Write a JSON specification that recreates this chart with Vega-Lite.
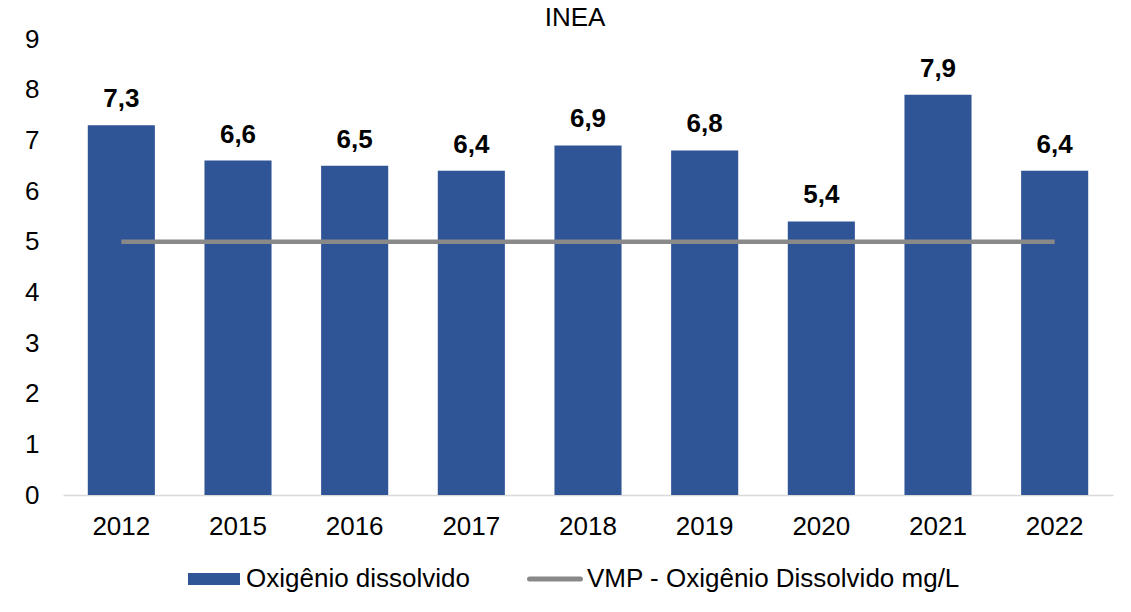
{
  "$schema": "https://vega.github.io/schema/vega-lite/v6.json",
  "width": 1050,
  "height": 456,
  "autosize": {"type": "none"},
  "padding": {"left": 63, "top": 39, "right": 18, "bottom": 117},
  "background": "white",
  "title": {"text": "INEA", "fontSize": 26, "font": "Liberation Sans", "fontWeight": "normal", "color": "#000000", "anchor": "middle", "offset": 0, "dx": -13, "dy": 26, "baseline": "alphabetic"},
  "config": {"view": {"stroke": null}, "font": "Liberation Sans"},
  "data": {"values": [
    {"ano": "2012", "valor": 7.3, "rotulo": "7,3"},
    {"ano": "2015", "valor": 6.6, "rotulo": "6,6"},
    {"ano": "2016", "valor": 6.5, "rotulo": "6,5"},
    {"ano": "2017", "valor": 6.4, "rotulo": "6,4"},
    {"ano": "2018", "valor": 6.9, "rotulo": "6,9"},
    {"ano": "2019", "valor": 6.8, "rotulo": "6,8"},
    {"ano": "2020", "valor": 5.4, "rotulo": "5,4"},
    {"ano": "2021", "valor": 7.9, "rotulo": "7,9"},
    {"ano": "2022", "valor": 6.4, "rotulo": "6,4"}
  ]},
  "layer": [
    {
      "mark": {"type": "bar", "color": "#2F5597"},
      "encoding": {
        "x": {"field": "ano", "type": "ordinal", "scale": {"paddingInner": 0.425, "paddingOuter": 0.2125},
          "axis": {"title": null, "labelAngle": 0, "labelFontSize": 26, "labelFont": "Liberation Sans", "labelColor": "#000000", "ticks": false, "domainColor": "#D9D9D9", "domainWidth": 1.5, "labelPadding": 18}},
        "y": {"field": "valor", "type": "quantitative", "scale": {"domain": [0, 9], "nice": false},
          "axis": {"title": null, "values": [0, 1, 2, 3, 4, 5, 6, 7, 8, 9], "labelFontSize": 26, "labelFont": "Liberation Sans", "labelColor": "#000000", "ticks": false, "domain": false, "grid": false, "labelPadding": 24}},
        "color": {"datum": "Oxigênio dissolvido", "type": "nominal",
          "scale": {"domain": ["Oxigênio dissolvido", "VMP - Oxigênio Dissolvido mg/L"], "range": ["#2F5597", "#898989"]},
          "legend": {"orient": "none", "legendX": 138, "legendY": 527, "direction": "horizontal", "title": null,
            "labelFontSize": 26, "labelFont": "Liberation Sans", "labelColor": "#000000", "labelOffset": 19,
            "columnPadding": 48, "symbolSize": 2704, "padding": 0, "labelLimit": 600,
            "encode": {"symbols": {"update": {
              "shape": {"signal": "datum.value === 'Oxigênio dissolvido' ? 'M-1,-0.23H1V0.23H-1Z' : 'M-0.98,0H0.98'"},
              "fill": {"signal": "datum.value === 'Oxigênio dissolvido' ? '#2F5597' : 'transparent'"},
              "stroke": {"signal": "datum.value === 'Oxigênio dissolvido' ? 'transparent' : '#898989'"},
              "strokeWidth": {"signal": "datum.value === 'Oxigênio dissolvido' ? 0 : 5"},
              "strokeCap": {"value": "round"},
              "opacity": {"value": 1}
            }}}}}
      }
    },
    {
      "mark": {"type": "text", "fontWeight": "bold", "fontSize": 26, "font": "Liberation Sans", "color": "#000000", "dy": -18, "baseline": "alphabetic"},
      "encoding": {
        "x": {"field": "ano", "type": "ordinal"},
        "y": {"field": "valor", "type": "quantitative"},
        "text": {"field": "rotulo"}
      }
    },
    {
      "mark": {"type": "line", "strokeWidth": 4.5},
      "encoding": {
        "x": {"field": "ano", "type": "ordinal"},
        "y": {"datum": 5, "type": "quantitative"},
        "color": {"datum": "VMP - Oxigênio Dissolvido mg/L", "type": "nominal"}
      }
    }
  ]
}
